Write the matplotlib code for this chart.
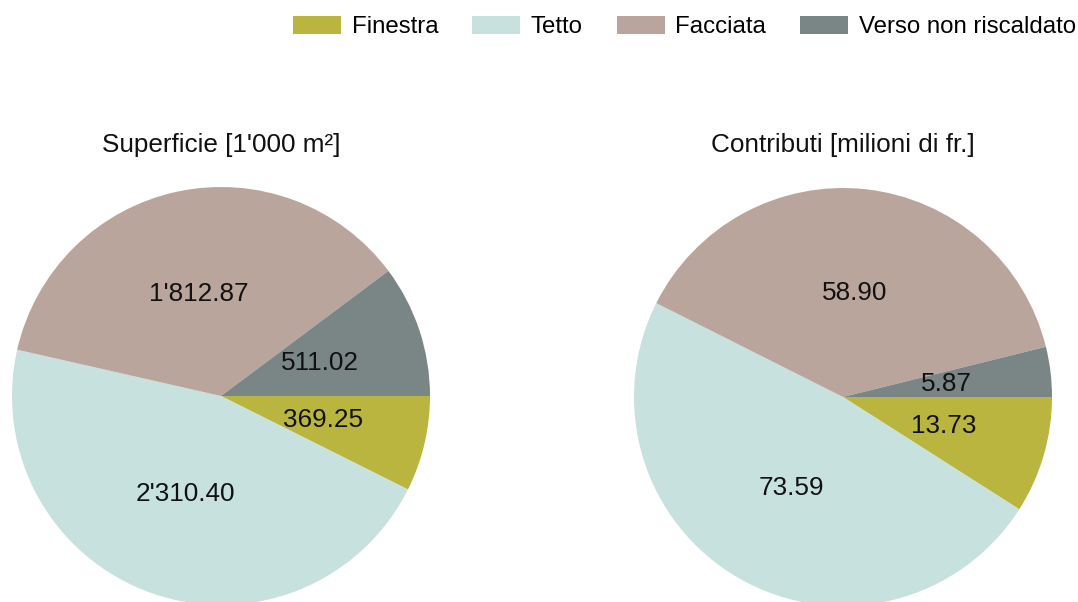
import matplotlib
matplotlib.use("Agg")
import matplotlib.pyplot as plt
from matplotlib.patches import Patch

plt.rcParams['font.family'] = ['Liberation Sans', 'DejaVu Sans']

categories = ["Finestra", "Tetto", "Facciata", "Verso non riscaldato"]
colors = ["#B9B53F", "#C7E1DE", "#BAA59D", "#798685"]

superficie = [369.25, 2310.40, 1812.87, 511.02]
contributi = [13.73, 73.59, 58.90, 5.87]

titles = ["Superficie [1'000 m²]", "Contributi [milioni di fr.]"]

W, H = 1078, 602
fig = plt.figure(figsize=(W / 100, H / 100), dpi=100)
fig.patch.set_facecolor("white")

FS = 18.8
LFS = 17.3


def fmt(v):
    return f"{v:,.2f}".replace(",", "'")


def draw_pie(cx, cy, r, values, title):
    # axes box in pixel coordinates, converted to figure fractions
    ax = fig.add_axes([(cx - r) / W, (H - cy - r) / H, 2 * r / W, 2 * r / H])
    wedges, texts = ax.pie(values, colors=colors, startangle=0, counterclock=False,
                           labels=[fmt(v) for v in values], labeldistance=0.5,
                           wedgeprops=dict(linewidth=0),
                           textprops=dict(fontsize=FS, color="#111111",
                                          ha="center", va="center"))
    for t in texts:
        t.set_horizontalalignment("center")
    ax.set_xlim(-1, 1)
    ax.set_ylim(-1, 1)
    ax.set_aspect("equal")
    fig.text(cx / W, 1 - 145 / H, title, ha="center", va="center",
             fontsize=FS, color="#111111")
    return ax


draw_pie(221, 396, 209, superficie, titles[0])
draw_pie(843, 397, 209, contributi, titles[1])

handles = [Patch(facecolor=c, edgecolor="none") for c in colors]
fig.legend(handles, categories, ncol=4, loc="center right",
           bbox_to_anchor=(1076 / W, 1 - 27 / H), frameon=False,
           fontsize=LFS, handlelength=2.0, handleheight=0.8,
           handletextpad=0.45, columnspacing=1.4, borderaxespad=0,
           borderpad=0)

fig.savefig("out.png", dpi=100, facecolor="white")
